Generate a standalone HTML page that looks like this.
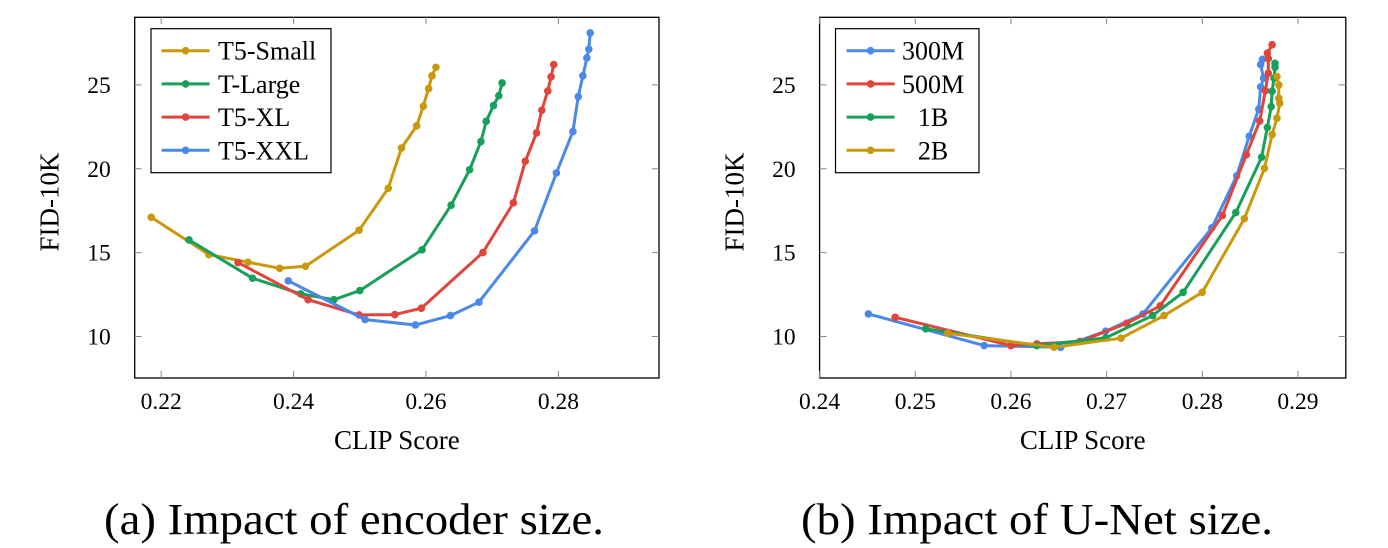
<!DOCTYPE html>
<html><head><meta charset="utf-8"><style>
body{margin:0;background:#fff;}
svg{display:block;font-family:"Liberation Serif",serif;}
</style></head><body>
<svg id="chart" width="1388" height="548" viewBox="0 0 1388 548" xmlns="http://www.w3.org/2000/svg"></svg>
<script>
const leftXTicks=[0.22,0.24,0.26,0.28];
const rightXTicks=[0.24,0.25,0.26,0.27,0.28,0.29];
const yTicks=[10,15,20,25];
const leftNames=["T5-Small","T-Large","T5-XL","T5-XXL"];
const rightNames=["300M","500M","1B","2B"];
const t5SmallX=[0.2185,0.2272,0.2331,0.2379,0.2418,0.2499,0.2543,0.2563,0.2586,0.2596,0.2604,0.2609,0.2615];
const t5SmallY=[17.11,14.89,14.43,14.07,14.19,16.34,18.84,21.24,22.56,23.73,24.78,25.54,26.05];
const tLargeX=[0.2242,0.2338,0.2411,0.2461,0.2500,0.2594,0.2638,0.2666,0.2683,0.2691,0.2702,0.2710,0.2715];
const tLargeY=[15.76,13.48,12.54,12.20,12.74,15.17,17.83,19.95,21.62,22.83,23.77,24.36,25.12];
const t5XLX=[0.2316,0.2422,0.2499,0.2553,0.2593,0.2686,0.2732,0.2750,0.2767,0.2775,0.2784,0.2789,0.2793];
const t5XLY=[14.41,12.20,11.29,11.31,11.69,15.01,17.97,20.45,22.14,23.49,24.64,25.48,26.21];
const t5XXLX=[0.2392,0.2508,0.2584,0.2637,0.2680,0.2764,0.2797,0.2822,0.2830,0.2837,0.2843,0.2846,0.2848];
const t5XXLY=[13.32,11.01,10.69,11.25,12.05,16.30,19.75,22.22,24.30,25.54,26.61,27.13,28.10];
const m300X=[0.2451,0.2572,0.2652,0.2699,0.2738,0.2810,0.2836,0.2849,0.2859,0.2861,0.2864,0.2861,0.2863];
const m300Y=[11.35,9.46,9.36,10.32,11.35,16.48,19.58,21.94,23.55,24.88,25.40,26.21,26.53];
const m500X=[0.2479,0.2600,0.2627,0.2672,0.2721,0.2756,0.2821,0.2846,0.2860,0.2866,0.2869,0.2869,0.2868,0.2873];
const m500Y=[11.15,9.46,9.56,9.70,10.79,11.83,17.21,20.83,22.85,24.66,25.70,26.57,26.89,27.40];
const b1X=[0.2511,0.2627,0.2699,0.2748,0.2780,0.2835,0.2862,0.2868,0.2872,0.2873,0.2875,0.2876,0.2876];
const b1Y=[10.46,9.46,9.92,11.25,12.64,17.39,20.69,22.46,23.71,24.62,25.40,26.05,26.29];
const b2X=[0.2534,0.2645,0.2715,0.2760,0.2800,0.2844,0.2865,0.2873,0.2878,0.2881,0.2880,0.2880,0.2878];
const b2Y=[10.20,9.36,9.90,11.25,12.64,17.03,20.03,22.04,23.01,23.91,24.21,25.00,25.50];

const GOLD="#c9980b",GREEN="#17a05a",RED="#e0443a",BLUE="#4a88ea";
const svg=document.getElementById('chart');
const NS="http://www.w3.org/2000/svg";
function mk(tag,attrs,parent){const e=document.createElementNS(NS,tag);for(const k in attrs)e.setAttribute(k,attrs[k]);(parent||svg).appendChild(e);return e;}

function panel(cfg){
  const g=mk('g',{});
  
  
  const L=cfg.px0,R=cfg.px1,T=17.3,B=378;
  const sx=v=>L+(v-cfg.x0)/(cfg.x1-cfg.x0)*(R-L);
  const sy=v=>B-(v-7.53)/(29.03-7.53)*(B-T);
  mk('rect',{x:L,y:T,width:R-L,height:B-T,fill:'none',stroke:'#000','stroke-width':1.3},g);
  cfg.xt.forEach(v=>{
    const x=sx(v);
    const tk=mk('path',{d:`M${x},${B}v-7M${x},${T}v7`,stroke:'#888','stroke-width':1},g);
    
    
    const t=mk('text',{x:x,y:B+31,'text-anchor':'middle','font-size':23.5},g);
    t.textContent=v.toFixed(2);
    
    
  });
  yTicks.forEach(v=>{
    const y=sy(v);
    const tk=mk('path',{d:`M${L},${y}h7M${R},${y}h-7`,stroke:'#888','stroke-width':1},g);
    
    
    const t=mk('text',{x:L-24,y:y+8,'text-anchor':'end','font-size':23.5},g);
    t.textContent=v;
    
    
  });
  const xl=mk('text',{x:(L+R)/2,y:449,'text-anchor':'middle','font-size':27},g);
  xl.textContent='CLIP Score';
  
  
  const yl=mk('text',{x:0,y:0,'text-anchor':'middle','font-size':27,transform:`translate(${L-76},202) rotate(-90)`},g);
  yl.textContent='FID-10K';
  
  
  cfg.series.forEach(s=>{
    const sg=mk('g',{},g);
    
    
    const pts=s.x.map((v,i)=>sx(v).toFixed(1)+','+sy(s.y[i]).toFixed(1)).join(' ');
    const pl=mk('polyline',{points:pts,fill:'none',stroke:s.c,'stroke-width':3,'stroke-linejoin':'round'},sg);
    
    
    s.x.forEach((v,i)=>{
      const c=mk('circle',{cx:sx(v),cy:sy(s.y[i]),r:3.8,fill:s.c},sg);
      
      
    });
  });
  const lg=mk('g',{},g);
  
  
  mk('rect',{x:cfg.lg[0],y:28.7,width:cfg.lg[1]-cfg.lg[0],height:144,fill:'#fff',stroke:'#000','stroke-width':1.2},lg);
  cfg.series.forEach((s,i)=>{
    const y=50.7+i*33.2;
    const e=mk('g',{},lg);
    
    
    mk('line',{x1:cfg.lg[2],x2:cfg.lg[2]+48,y1:y,y2:y,stroke:s.c,'stroke-width':3},e);
    mk('circle',{cx:cfg.lg[2]+24,cy:y,r:3.8,fill:s.c},e);
    const t=mk('text',{x:cfg.lg[3],y:y+9,'font-size':26,'text-anchor':cfg.anchor},e);
    t.textContent=s.name;
  });
}

panel({id:'encoder',px0:134.7,px1:659,x0:0.2160,x1:0.2952,xt:leftXTicks,lg:[151,331,161.6,218],anchor:'start',
 series:[{name:leftNames[0],x:t5SmallX,y:t5SmallY,c:GOLD},{name:leftNames[1],x:tLargeX,y:tLargeY,c:GREEN},{name:leftNames[2],x:t5XLX,y:t5XLY,c:RED},{name:leftNames[3],x:t5XXLX,y:t5XXLY,c:BLUE}]});
panel({id:'unet',px0:819.6,px1:1345.8,x0:0.2400,x1:0.2950,xt:rightXTicks,lg:[835.5,979,846.6,933],anchor:'middle',
 series:[{name:rightNames[0],x:m300X,y:m300Y,c:BLUE},{name:rightNames[1],x:m500X,y:m500Y,c:RED},{name:rightNames[2],x:b1X,y:b1Y,c:GREEN},{name:rightNames[3],x:b2X,y:b2Y,c:GOLD}]});

const c1=mk('text',{x:354,y:534,'text-anchor':'middle','font-size':44,textLength:500,lengthAdjust:'spacingAndGlyphs'});
c1.textContent='(a) Impact of encoder size.';


const c2=mk('text',{x:1037,y:534,'text-anchor':'middle','font-size':44,textLength:472,lengthAdjust:'spacingAndGlyphs'});
c2.textContent='(b) Impact of U-Net size.';


</script>
</body></html>
